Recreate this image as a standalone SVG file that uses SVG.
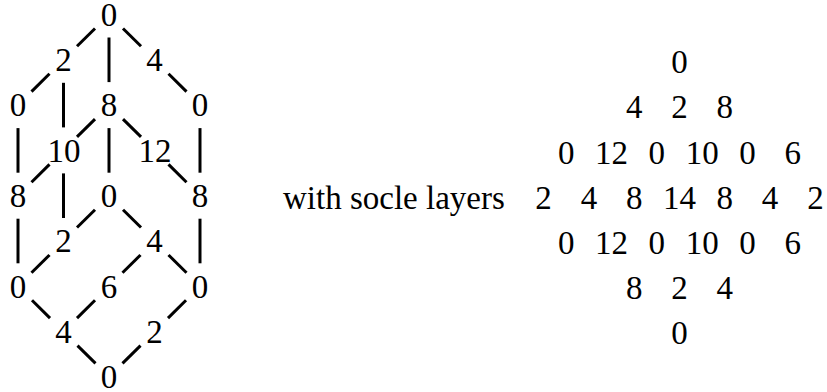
<svg xmlns="http://www.w3.org/2000/svg" width="827" height="392" viewBox="0 0 827 392">
<style>
text{font-family:"Liberation Serif","Times New Roman",serif;font-size:33px;fill:#000;text-anchor:middle}
.e line{stroke:#000;stroke-width:3}
</style>
<rect width="827" height="392" fill="#fff"/>
<g class="e" id="connectors">
<line x1="95" y1="28.5" x2="77" y2="46.3"/>
<line x1="123" y1="28.5" x2="141" y2="46.3"/>
<line x1="49.5" y1="73.8" x2="31.5" y2="91.6"/>
<line x1="168.5" y1="73.8" x2="186.5" y2="91.6"/>
<line x1="95" y1="119.1" x2="77" y2="136.9"/>
<line x1="123" y1="119.1" x2="141" y2="136.9"/>
<line x1="49.5" y1="164.4" x2="31.5" y2="182.2"/>
<line x1="168.5" y1="164.4" x2="186.5" y2="182.2"/>
<line x1="95" y1="209.7" x2="77" y2="227.5"/>
<line x1="123" y1="209.7" x2="141" y2="227.5"/>
<line x1="49.5" y1="255" x2="31.5" y2="272.8"/>
<line x1="140.5" y1="255" x2="122.5" y2="272.8"/>
<line x1="168.5" y1="255" x2="186.5" y2="272.8"/>
<line x1="32" y1="300.3" x2="50" y2="318.1"/>
<line x1="95" y1="300.3" x2="77" y2="318.1"/>
<line x1="186" y1="300.3" x2="168" y2="318.1"/>
<line x1="77.5" y1="345.6" x2="95.5" y2="363.4"/>
<line x1="140.5" y1="345.6" x2="122.5" y2="363.4"/>
<line x1="109" y1="37.5" x2="109" y2="82.1"/>
<line x1="63.5" y1="82.8" x2="63.5" y2="127.4"/>
<line x1="18" y1="128.1" x2="18" y2="172.7"/>
<line x1="109" y1="128.1" x2="109" y2="172.7"/>
<line x1="200" y1="128.1" x2="200" y2="172.7"/>
<line x1="63.5" y1="173.4" x2="63.5" y2="218"/>
<line x1="18" y1="218.7" x2="18" y2="263.3"/>
<line x1="200" y1="218.7" x2="200" y2="263.3"/>
</g>
<g id="n-top"><text x="109" y="25.7">0</text></g>
<g id="n-r1a"><text x="63.5" y="71">2</text></g>
<g id="n-r1b"><text x="154.5" y="71">4</text></g>
<g id="n-r2a"><text x="18" y="116.3">0</text></g>
<g id="n-r2b"><text x="109" y="116.3">8</text></g>
<g id="n-r2c"><text x="200" y="116.3">0</text></g>
<g id="n-r3a"><text x="64" y="161.6">10</text></g>
<g id="n-r3b"><text x="155" y="161.6">12</text></g>
<g id="n-r4a"><text x="18" y="206.9">8</text></g>
<g id="n-r4b"><text x="109" y="206.9">0</text></g>
<g id="n-r4c"><text x="200" y="206.9">8</text></g>
<g id="n-r5a"><text x="63.5" y="252.2">2</text></g>
<g id="n-r5b"><text x="154.5" y="252.2">4</text></g>
<g id="n-r6a"><text x="18" y="297.5">0</text></g>
<g id="n-r6b"><text x="109" y="297.5">6</text></g>
<g id="n-r6c"><text x="200" y="297.5">0</text></g>
<g id="n-r7a"><text x="63.5" y="342.8">4</text></g>
<g id="n-r7b"><text x="154.5" y="342.8">2</text></g>
<g id="n-bot"><text x="109" y="388.1">0</text></g>
<g id="label"><text x="283" y="208.7" style="text-anchor:start">with socle layers</text></g>
<g id="table">
<text x="679.5" y="73.1">0</text>
<text x="634.2" y="118.3">4</text><text x="679.5" y="118.3">2</text><text x="724.8" y="118.3">8</text>
<text x="566.25" y="163.5">0</text><text x="611.55" y="163.5">12</text><text x="656.85" y="163.5">0</text><text x="702.15" y="163.5">10</text><text x="747.45" y="163.5">0</text><text x="792.75" y="163.5">6</text>
<text x="543.6" y="208.7">2</text><text x="588.9" y="208.7">4</text><text x="634.2" y="208.7">8</text><text x="679.5" y="208.7">14</text><text x="724.8" y="208.7">8</text><text x="770.1" y="208.7">4</text><text x="815.4" y="208.7">2</text>
<text x="566.25" y="253.9">0</text><text x="611.55" y="253.9">12</text><text x="656.85" y="253.9">0</text><text x="702.15" y="253.9">10</text><text x="747.45" y="253.9">0</text><text x="792.75" y="253.9">6</text>
<text x="634.2" y="299.1">8</text><text x="679.5" y="299.1">2</text><text x="724.8" y="299.1">4</text>
<text x="679.5" y="344.3">0</text>
</g>
</svg>
